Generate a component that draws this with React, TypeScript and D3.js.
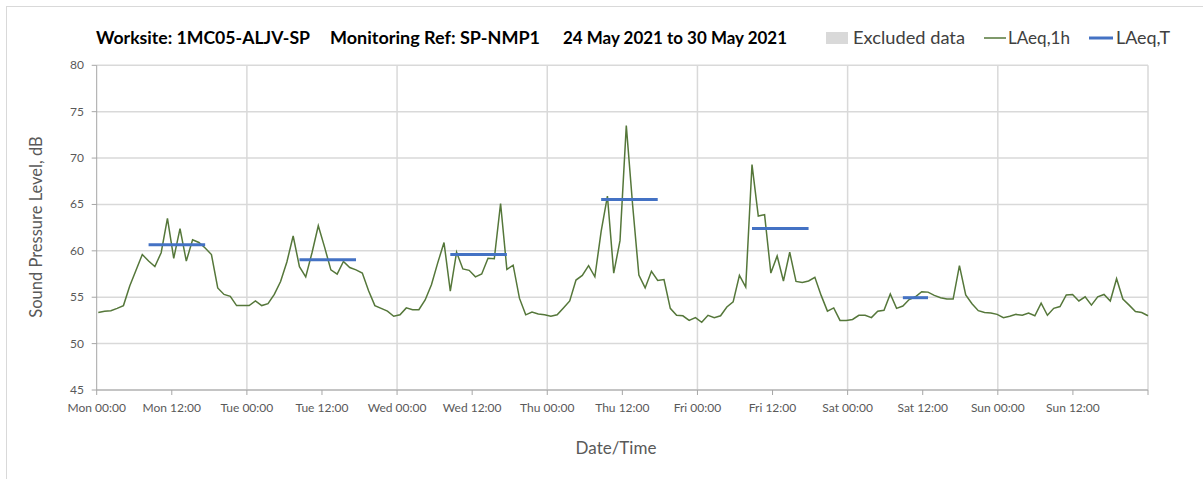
import React from "react";
import * as d3 from "d3";

// LAeq,1h hourly values (dB), one array per day, 00:00..23:00
const mon = [53.35, 53.5, 53.55, 53.8, 54.1, 56.2, 57.9, 59.6, 58.9, 58.3, 59.8, 63.5, 59.2, 62.4, 58.9, 61.2, 60.9, 60.3, 59.6, 56.0, 55.3, 55.1, 54.1, 54.1];
const tue = [54.1, 54.6, 54.1, 54.3, 55.3, 56.7, 58.8, 61.6, 58.3, 57.2, 59.8, 62.7, 60.4, 57.95, 57.5, 58.85, 58.2, 57.95, 57.6, 55.7, 54.1, 53.8, 53.5, 52.95];
const wed = [53.1, 53.85, 53.65, 53.65, 54.7, 56.35, 58.7, 60.9, 55.65, 59.85, 58.05, 57.9, 57.2, 57.5, 59.2, 59.15, 65.1, 58.0, 58.45, 54.9, 53.1, 53.4, 53.2, 53.1];
const thu = [52.95, 53.1, 53.85, 54.6, 56.85, 57.35, 58.4, 57.2, 62.1, 65.9, 57.6, 61.1, 73.5, 65.0, 57.4, 56.0, 57.8, 56.8, 56.9, 53.8, 53.05, 53.0, 52.5, 52.8];
const fri = [52.3, 53.05, 52.8, 53.0, 53.95, 54.5, 57.35, 56.1, 69.3, 63.75, 63.9, 57.6, 59.45, 56.75, 59.85, 56.7, 56.6, 56.75, 57.15, 55.2, 53.5, 53.85, 52.5, 52.5];
const sat = [52.6, 53.05, 53.05, 52.8, 53.5, 53.6, 55.35, 53.8, 54.05, 54.75, 55.05, 55.6, 55.55, 55.2, 54.95, 54.8, 54.8, 58.4, 55.25, 54.3, 53.55, 53.35, 53.3, 53.15];
const sun = [52.8, 52.95, 53.15, 53.05, 53.3, 53.0, 54.35, 53.05, 53.8, 54.0, 55.25, 55.3, 54.6, 55.05, 54.15, 55.05, 55.3, 54.6, 57.0, 54.8, 54.15, 53.45, 53.35, 53.0];

// LAeq,T daytime periods: [start hour index, end hour index, level]
const periodStart = [8, 32, 56, 80, 104, 128];
const periodEnd = [17, 41, 65, 89, 113, 132];
const periodLevel = [60.67, 59.05, 59.6, 65.53, 62.4, 54.95];

const tickHours = [0, 12, 24, 36, 48, 60, 72, 84, 96, 108, 120, 132, 144, 156, 168];
const tickLabels = ["Mon 00:00", "Mon 12:00", "Tue 00:00", "Tue 12:00", "Wed 00:00", "Wed 12:00", "Thu 00:00", "Thu 12:00", "Fri 00:00", "Fri 12:00", "Sat 00:00", "Sat 12:00", "Sun 00:00", "Sun 12:00", ""];
const dayHours = [24, 48, 72, 96, 120, 144, 168];
const yTicks = [45, 50, 55, 60, 65, 70, 75, 80];

const FONT = "Lato, 'Open Sans', sans-serif";
const GREEN = "#55773a";
const BLUE = "#4472c4";

export default function App() {
  const laeq1h = [...mon, ...tue, ...wed, ...thu, ...fri, ...sat, ...sun];
  const L = 96.7, R = 1148, T = 65.3, B = 390;
  const x = d3.scaleLinear().domain([0, 168]).range([L, R]);
  const xp = d3.scalePoint<number>().domain(d3.range(laeq1h.length)).range([98.3, 1148]);
  const y = d3.scaleLinear().domain([45, 80]).range([B, T]);
  const line = d3.line<number>().x((_, i) => xp(i) as number).y((d) => y(d));

  return (
    <svg width={1203} height={479} style={{ position: "absolute", left: 0, top: 0, background: "#fff" }} fontFamily={FONT}>
      <rect x={6.5} y={6.5} width={1210} height={480} fill="#fff" stroke="#d9d9d9" />
      {/* horizontal gridlines */}
      {yTicks.map((t) => (
        <line key={"h" + t} x1={L} x2={R} y1={y(t)} y2={y(t)} stroke="#d9d9d9" strokeWidth={1.5} />
      ))}
      {/* vertical day gridlines */}
      {dayHours.map((h) => (
        <line key={"v" + h} x1={x(h)} x2={x(h)} y1={T} y2={B} stroke="#d9d9d9" strokeWidth={1.5} />
      ))}
      {/* axes */}
      <line x1={L} x2={L} y1={T} y2={B} stroke="#a6a6a6" strokeWidth={1} />
      <line x1={L} x2={R} y1={B} y2={B} stroke="#a6a6a6" strokeWidth={1} />
      {yTicks.map((t) => (
        <g key={"yt" + t}>
          <line x1={L - 5} x2={L} y1={y(t)} y2={y(t)} stroke="#a6a6a6" />
          <text x={84} y={y(t) + 4} textAnchor="end" fontSize={12} fill="#595959">{t}</text>
        </g>
      ))}
      {tickHours.map((h, i) => (
        <g key={"xt" + h}>
          <line x1={x(h)} x2={x(h)} y1={B} y2={B + 5} stroke="#a6a6a6" />
          <text x={x(h)} y={412} textAnchor="middle" fontSize={12} fill="#595959">{tickLabels[i]}</text>
        </g>
      ))}
      {/* data */}
      <path d={line(laeq1h) || ""} fill="none" stroke={GREEN} strokeWidth={1.5} />
      {periodLevel.map((v, i) => (
        <line key={"p" + i} x1={xp(periodStart[i])} x2={xp(periodEnd[i])} y1={y(v)} y2={y(v)} stroke={BLUE} strokeWidth={3} />
      ))}
      {/* axis titles */}
      <text transform="translate(42,227) rotate(-90)" textAnchor="middle" fontSize={16.5} fill="#595959">Sound Pressure Level, dB</text>
      <text x={616} y={454} textAnchor="middle" fontSize={17} fill="#595959">Date/Time</text>
      {/* title */}
      <text x={96} y={44} fontSize={16.5} fontWeight="bold" fill="#000" textLength={214} lengthAdjust="spacingAndGlyphs">Worksite: 1MC05-ALJV-SP</text>
      <text x={330} y={44} fontSize={16.5} fontWeight="bold" fill="#000" textLength={210} lengthAdjust="spacingAndGlyphs">Monitoring Ref: SP-NMP1</text>
      <text x={563} y={44} fontSize={16.5} fontWeight="bold" fill="#000" textLength={224} lengthAdjust="spacingAndGlyphs">24 May 2021 to 30 May 2021</text>
      {/* legend */}
      <rect x={826} y={32} width={22} height={12} fill="#d9d9d9" />
      <text x={853} y={44} fontSize={17.5} fill="#404040" textLength={112} lengthAdjust="spacingAndGlyphs">Excluded data</text>
      <line x1={984} x2={1006} y1={38} y2={38} stroke={GREEN} strokeWidth={1.5} />
      <text x={1008} y={44} fontSize={17.5} fill="#404040" textLength={62} lengthAdjust="spacingAndGlyphs">LAeq,1h</text>
      <line x1={1089} x2={1113} y1={38} y2={38} stroke={BLUE} strokeWidth={3} />
      <text x={1116} y={44} fontSize={17.5} fill="#404040" textLength={54} lengthAdjust="spacingAndGlyphs">LAeq,T</text>
    </svg>
  );
}
